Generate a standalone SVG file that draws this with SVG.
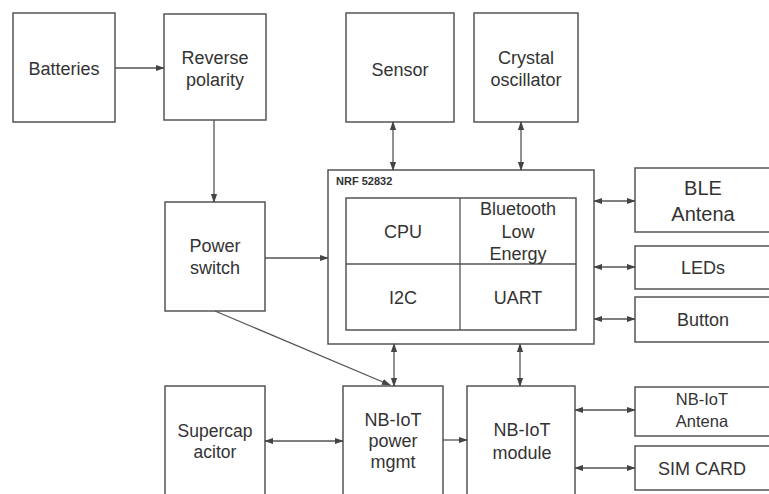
<svg xmlns="http://www.w3.org/2000/svg" width="769" height="494" viewBox="0 0 769 494">
<style>
.b{fill:#fff;stroke:#555;stroke-width:1.5}
.t{font-family:"Liberation Sans",Arial,sans-serif;font-size:18px;fill:#333;text-anchor:middle}
.c{stroke:#555;stroke-width:1.3;fill:none}
.one{marker-end:url(#ah)}
.two{marker-end:url(#ah);marker-start:url(#ah)}
</style>
<defs>
<marker id="ah" viewBox="0 0 10 10" refX="9" refY="5" markerWidth="9" markerHeight="9" markerUnits="userSpaceOnUse" orient="auto-start-reverse">
<path d="M0,1.5 L10,5 L0,8.5 Z" fill="#444"/>
</marker>
</defs>
<rect width="769" height="494" fill="#fff"/>
<g id="batteries"><rect class="b" x="13" y="13" width="102" height="109"/><text class="t" x="64" y="75">Batteries</text></g>
<g id="reverse"><rect class="b" x="164" y="14" width="102" height="106"/><text class="t" x="215" y="64">Reverse</text><text class="t" x="215" y="86">polarity</text></g>
<g id="sensor"><rect class="b" x="346" y="13" width="108" height="109"/><text class="t" x="400" y="76">Sensor</text></g>
<g id="crystal"><rect class="b" x="474" y="13" width="104" height="109"/><text class="t" x="526" y="64">Crystal</text><text class="t" x="526" y="86">oscillator</text></g>
<g id="power-switch"><rect class="b" x="165" y="202" width="100" height="109"/><text class="t" x="215" y="252">Power</text><text class="t" x="215" y="274">switch</text></g>
<g id="nrf">
<rect class="b" x="328" y="170" width="266" height="174"/>
<text x="336" y="185" style="font-family:'Liberation Sans',Arial,sans-serif;font-size:11px;font-weight:bold;fill:#333">NRF 52832</text>
<rect class="b" x="346" y="198" width="230" height="132"/>
<line class="c" x1="460" y1="198" x2="460" y2="330"/>
<line class="c" x1="346" y1="264" x2="576" y2="264"/>
<text class="t" x="403" y="238">CPU</text>
<text class="t" x="518" y="215">Bluetooth</text><text class="t" x="518" y="238">Low</text><text class="t" x="518" y="260">Energy</text>
<text class="t" x="403" y="304">I2C</text>
<text class="t" x="518" y="304">UART</text>
</g>
<g id="ble-antena"><rect class="b" x="635" y="168" width="140" height="64"/><text class="t" x="703" y="195" style="font-size:20px">BLE</text><text class="t" x="703" y="221" style="font-size:20px">Antena</text></g>
<g id="leds"><rect class="b" x="635" y="246" width="140" height="43"/><text class="t" x="703" y="274">LEDs</text></g>
<g id="button"><rect class="b" x="635" y="297" width="140" height="45"/><text class="t" x="703" y="326">Button</text></g>
<g id="supercap"><rect class="b" x="165" y="386" width="100" height="112"/><text class="t" x="215" y="437" style="font-size:17.5px">Supercap</text><text class="t" x="215" y="458" style="font-size:17.5px">acitor</text></g>
<g id="nbiot-power"><rect class="b" x="343" y="386" width="100" height="112"/><text class="t" x="393" y="426">NB-IoT</text><text class="t" x="393" y="447">power</text><text class="t" x="393" y="468">mgmt</text></g>
<g id="nbiot-module"><rect class="b" x="467" y="386" width="108" height="112"/><text class="t" x="522" y="436">NB-IoT</text><text class="t" x="522" y="459">module</text></g>
<g id="nbiot-antena"><rect class="b" x="635" y="387" width="140" height="49"/><text class="t" x="702" y="405" style="font-size:16.5px">NB-IoT</text><text class="t" x="702" y="427" style="font-size:16.5px">Antena</text></g>
<g id="sim"><rect class="b" x="635" y="446" width="140" height="44"/><text class="t" x="702" y="475">SIM CARD</text></g>
<g id="connectors">
<line class="c one" x1="115" y1="68" x2="164" y2="68"/>
<line class="c one" x1="214" y1="120" x2="214" y2="202"/>
<line class="c one" x1="265" y1="258" x2="328" y2="258"/>
<line class="c one" x1="215" y1="311" x2="390" y2="385"/>
<line class="c two" x1="393" y1="122" x2="393" y2="170"/>
<line class="c two" x1="521" y1="122" x2="521" y2="170"/>
<line class="c two" x1="594" y1="201" x2="635" y2="201"/>
<line class="c two" x1="594" y1="267" x2="635" y2="267"/>
<line class="c two" x1="594" y1="319" x2="635" y2="319"/>
<line class="c two" x1="394" y1="344" x2="394" y2="386"/>
<line class="c two" x1="520" y1="344" x2="520" y2="386"/>
<line class="c two" x1="265" y1="441" x2="343" y2="441"/>
<line class="c one" x1="443" y1="440" x2="467" y2="440"/>
<line class="c two" x1="575" y1="410" x2="635" y2="410"/>
<line class="c two" x1="575" y1="468" x2="635" y2="468"/>
</g>
</svg>
